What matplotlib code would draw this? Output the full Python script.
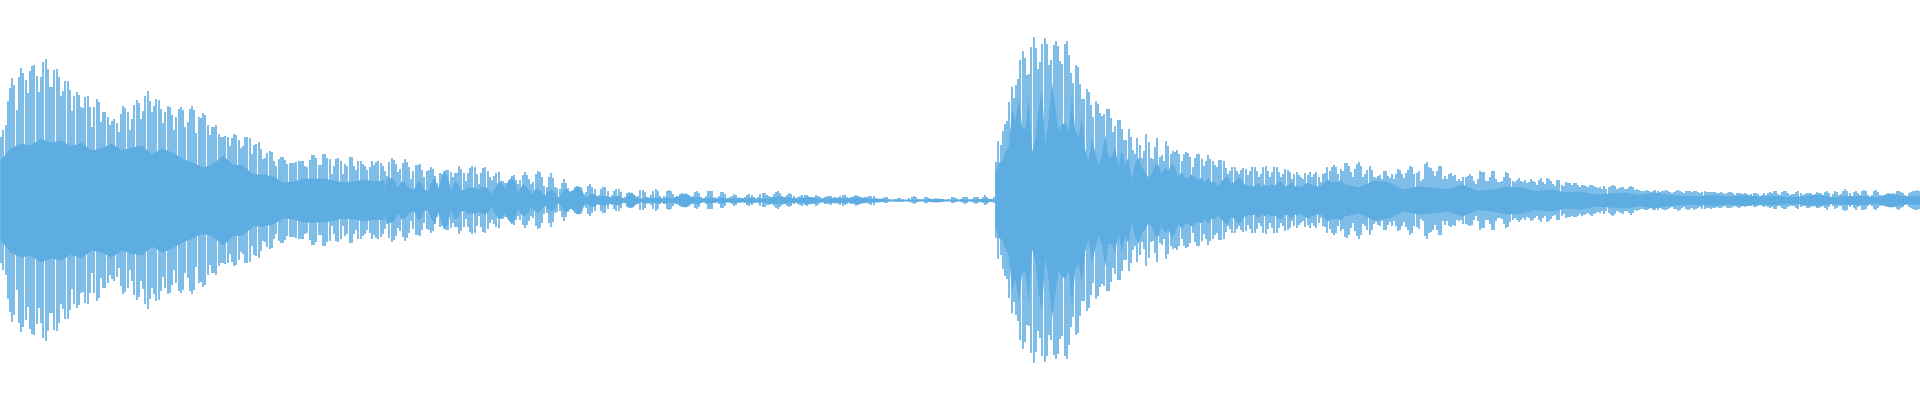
import numpy as np
import matplotlib
matplotlib.use("Agg")
import matplotlib.pyplot as plt

# Waveform: amplitude (symmetric about zero) of the
# peak bars ("spikes") and of the dense inner body ("core"), per time segment.
segment_edges = [0, 384, 768, 995, 1344, 1920]

spikes_a = [63,70,75,99,112,122,115,90,123,132,127,120,107,129,134,135,124,108,123,138,141,131,113,113,130,131,123,104,109,119,119,110,89,104,108,105,93,92,103,104,93,73,93,101,98,78,88,88,83,75,79,81,77,68,86,94,92,88,70,81,95,100,97,81,89,104,109,99,88,94,101,100,91,77,88,94,93,85,70,83,91,93,90,73,78,91,94,90,67,83,82,87,85,75,65,73,73,75,66,63,63,64,63,54,62,66,65,60,52,54,63,63,62,46,55,56,58,51,41,42,47,49,48,39,34,41,43,43,40,36,37,37,37,38,39,39,39,34,33,40,45,45,42,35,35,46,46,42,41,26,34,41,42,39,26,36,34,43,43,34,30,39,39,36,34,30,33,39,35,38,39,37,34]
spikes_b = [29.3,24,37.7,42.3,40.3,36,27.7,31,37,41.3,38.3,33.3,21,29.3,35.3,35.3,36,30,22.7,29.3,30.3,32.7,31.3,24.3,16.7,27,26,28.7,30.3,30.3,27.7,22.7,26.7,27.3,34,31.3,26.7,18.7,26.7,32.3,34.3,32.7,26,16,26.7,32,33.3,29,22.7,20,24.3,27.3,28.3,19.3,19.3,16.7,16.7,20,24.3,25,20,16,20,25.3,28.3,25.3,21,16,17.7,26,28.7,28.3,22.7,14.3,12.7,22.7,26.7,22,12.7,12,11,16.7,21,16.7,12,8.7,10,13.3,14.3,12,6,6,7.7,14,16,12.7,11,4.3,5,11,13.3,13.3,9.3,3.3,5,9.3,11,11,7.7,2,2.7,6.7,7.7,6.7,3.3,1.7,4.3,10,10,7.7,2.7,1.7,5,9.3,11,9.3,4.3,1.7,4,9.3,10,9.3,6,2.7,4.3,6,6.7,6,4.3,2,2.7,4.3,7.7,9.3,7.3,3.3,2,4.3,8.7,9.3,8.7,3.3,2,4.3,7.7,8.3,6,1.7,2.7,4.3,6,5,3.3,2,2.3,2.7,5,6,5.3,2.7,1,2.7,6,7,7.3,5]
spikes_c = [4.5,3.5,6,8,9,7,4.5,3,5.5,7,6,4,2,3.5,4.5,5.5,5,5.5,3,1,3.5,5.5,4.5,3,2,3.5,4,4,4.5,3,1,2,4.5,5.5,5,3.5,2,3.5,4,5.5,4.5,2,1,3,3,4,4.5,4.5,2,0.5,1.5,2,3,3,1.5,0.5,1,1.5,2,2,1.5,0.5,0.5,2,3,4,3,1.5,1,1,3,3,2,1,0.5,0.5,1,1,1,0.5,0.5,1,3,3,2,1,1.5,3,3.5,3,1,1.5,3,3.5,3,1.5,3,5,3.5,1,1,3]
spikes_d = [38,59,55,69,76,79,98,113,102,115,121,140,149,142,125,126,153,163,152,131,138,156,162,156,135,140,155,159,154,139,136,156,159,145,127,117,135,133,116,101,101,111,108,95,83,99,96,87,84,86,91,91,82,68,74,80,80,71,60,60,71,63,50,46,62,55,42,49,66,58,42,41,53,62,43,45,39,59,54,46,49,48,50,46,39,46,48,47,43,33,42,46,46,41,34,39,45,41,39,35,33,40,40,39,32,26,29,33,33,29,26,30,32,31,25,29,33,33,29,23,26,33,34,29,23,28,33,33,28,23,26,31,30,28,21,26,28,25,23,21,27,25,28,23,26,28,23,18,26,27,33,29,33,35,33,26,31,29]
spikes_e = [37,37.5,34.5,28,23,31,36,38.5,34.5,23.5,26,30,34.5,30,23.5,22,24.5,25.5,21,29.5,29.5,24.5,22,26,21,26,31,30,26,22,27,30,34.5,33,26,27,29,19,21,36,38.5,33,32,29.5,24.5,29.5,34.5,34.5,21,24.5,21,26,27,24.5,25.5,19.5,21,19.5,23.5,23.5,24.5,26,24.5,19.5,16,21,29.5,28,28,19.5,19.5,23.5,29.5,29.5,21,18,18,19,23.5,28,27,22,19.5,18,20,22,19.5,18,20,17,18,21,19.5,18,15.5,20,22,18,16,22,21,19,16,14.5,20,20,15.5,14,18,17,17,15.5,17,17,15.5,13.5,15.5,15,14,13,15,15.5,14,13,12,13,11,14,11,13,14.5,15.5,14,11,12,13,13.5,11,11,13,14.5,13,10,11,10,9,9,9.5,10,9,8,9.5,10,9.5,8,9,9.5,10,9,8,7,8.5,9,10.5,9.5,8,7,9,9.5,9,8,9.5,9,8,7,8.5,9,8,8,8.5,8,8,7,7.5,8,7,6,7.5,8,8,7,5.5,7,7.5,7,6,7,6,5.5,6,7,7,6,4.5,5.5,7,5.5,7,8,7,9,9,6,5.5,8,9,9,7,5.5,6,6,8,9,7,5.5,6,7.5,7.5,7,5,6,8,7.5,7,5.5,8,9.5,7,3.5,6,9,8,5.5,6,9.5,11,9.5,7,4.5,8,9.5,7,5.5,9.5,10,9,5.5,3.5,5.5,9,10,8,5.5,3.5,4.5,6,7,5.5,4,7,9,9.5,8,7,5,4,7,8,9,9.5,10,9]

core_a = [40,52,57,55,62,58,60,54,58,50,52,57,50,53,55,46,52,48,42,38,33,36,45,36,35,26,26,24,18,19,22,22,22,20,18,19,21,19,20]
core_b = [14,23,22,21,12,19,18,14,11,12,19,18,11,9,18,24,12,21,28,24,9,19,17,11,10,13,13,13,11,13,14,12,6,12,18,18,12,19,23,19,8,14,16,12,6,11,12,9,5,9,11,8,3,6,12,10,8,12,14,13,3,4,7,6,3,5,5,4,3,4,5,3,2,6,8,5,2,2,3,3,2,3,3,2,3,3,2,3,4,6,7,6,3,3,4,2,2,3,3,2,2,3,2,2,2,3,2,2,2,3,3,2,2,2,2,3]
core_c = [3,4,3,2,4,2,2,3,2,4,2,2,1,1,1,1,1,2,1,1,1,1,2,1]
core_d = [26,38,39,49,54,91,79,101,73,71,103,49,61,93,111,56,81,118,94,69,76,78,69,106,69,63,83,51,38,63,48,36,43,66,43,44,53,33,51,36,43,21,36,43,33,29,23,26,36,36,26,33,29,38,33,23,29,23,23,26,23,21,23,18,23,18,19,14,19,23,23,16,19,23,21,16,14,15,14,18,13,16,14,16,15,18,19,14,15,19,14,15,13,16,18,16,15,14,14,18,21,18,19,18,21,16]
core_e = [16,13,20,18,11,14,13,11,16,9.5,11,14,13,9.5,11,8,9,6,7,8,5.5,8,5.5,4.5,4.5,5.5,4,5.5,4,4.5,3.5,4,6,3.5,4.5,4.5,3.5,7,4,4.5]

spike_segments = [spikes_a, spikes_b, spikes_c, spikes_d, spikes_e]
core_segments = [core_a, core_b, core_c, core_d, core_e]

COLOR = "#5dade2"

fig = plt.figure(figsize=(19.2, 4.0), dpi=100)
ax = fig.add_axes([0, 0, 1, 1])

for i, (sp, co) in enumerate(zip(spike_segments, core_segments)):
    x0, x1 = segment_edges[i], segment_edges[i + 1]
    sp = np.asarray(sp, dtype=float)
    co = np.asarray(co, dtype=float)
    step = (x1 - x0) / len(sp)
    xs = x0 + step * (np.arange(len(sp)) + 0.5)
    ax.vlines(xs, -sp, sp, color=COLOR, linewidth=1.15)
    xc = np.linspace(x0, x1, len(co))
    ax.fill_between(xc, -co, co, color=COLOR, linewidth=0)

ax.set_xlim(0, 1920)
ax.set_ylim(-200, 200)
ax.axis("off")
fig.savefig("out.png", dpi=100, facecolor="white")
